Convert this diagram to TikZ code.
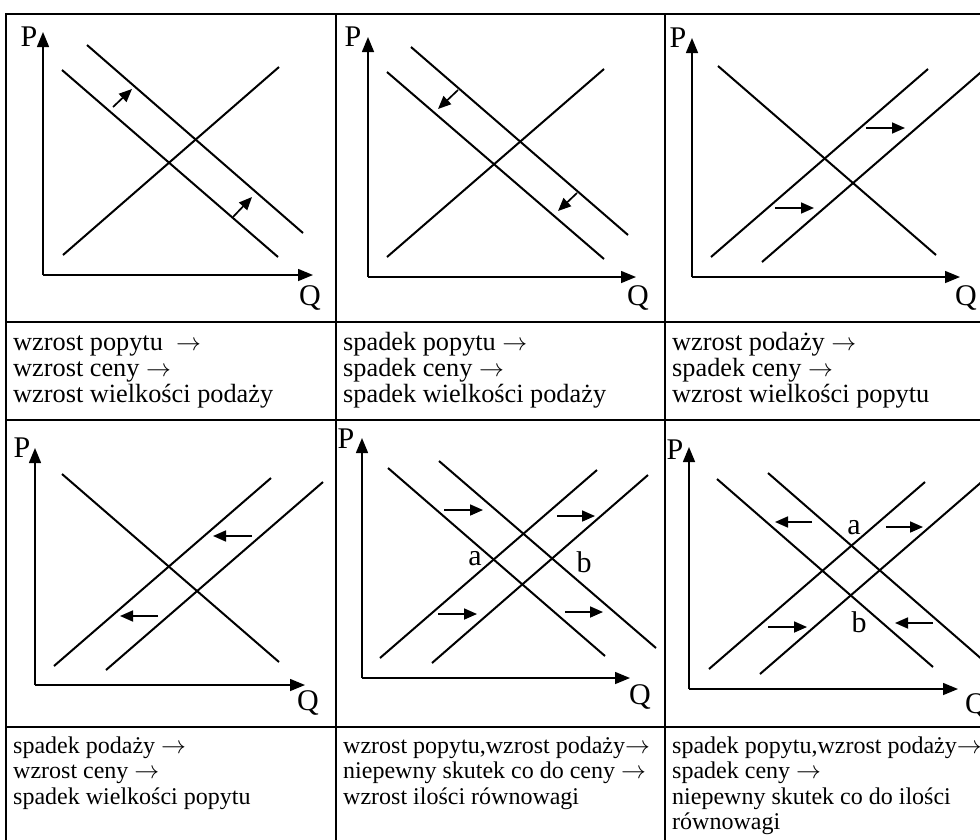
\documentclass[tikz,border=0pt]{standalone}
\usepackage{fontspec}
\setmainfont{Liberation Serif}
\usetikzlibrary{arrows.meta}
\newcommand{\ra}{$\rightarrow$}
\begin{document}
\begin{tikzpicture}[x=1pt,y=-1pt,
  gridline/.style={line width=1.8pt},
  curve/.style={line width=2pt},
  axisarr/.style={line width=1.5pt,-{Triangle[length=15pt,width=12pt]}},
  shiftarr/.style={line width=1.7pt,-{Triangle[length=13pt,width=11pt]}},
  lbl/.style={inner sep=0pt,font=\fontsize{30}{30}\selectfont},
  txta/.style={anchor=base west,inner sep=0pt,font=\fontsize{26.3}{26}\selectfont},
  txtb/.style={anchor=base west,inner sep=0pt,font=\fontsize{24}{24}\selectfont}]
\useasboundingbox (0,0) rectangle (980,839);
\fill[white] (0,0) rectangle (980,839);
% table grid
\draw[gridline] (6,14) -- (990,14);
\draw[gridline] (6,322) -- (990,322);
\draw[gridline] (6,420) -- (990,420);
\draw[gridline] (6,727) -- (990,727);
\draw[gridline] (6,13) -- (6,850);
\draw[gridline] (336,13) -- (336,850);
\draw[gridline] (665,13) -- (665,850);

% ---------- panel 1 ----------
\draw[axisarr] (43,275) -- (43,32);
\draw[axisarr] (43,275) -- (313,275);
\node[lbl] (p1P) at (29,37) {P};
\node[lbl] (p1Q) at (310,298) {Q};
\draw[curve] (62,70) -- (278,257);
\draw[curve] (87,45) -- (303,233);
\draw[curve] (63,255) -- (279,67);
\draw[shiftarr] (113,107) -- (132,89);
\draw[shiftarr] (233,217) -- (252,197);

% ---------- panel 2 ----------
\draw[axisarr] (368,277) -- (368,37);
\draw[axisarr] (368,277) -- (636,277);
\node[lbl] (p2P) at (353,37) {P};
\node[lbl] (p2Q) at (638,298) {Q};
\draw[curve] (387,72) -- (604,259);
\draw[curve] (411,47) -- (628,235);
\draw[curve] (387,257) -- (604,69);
\draw[shiftarr] (458,90) -- (438,109);
\draw[shiftarr] (577,193) -- (558,211);

% ---------- panel 3 ----------
\draw[axisarr] (692,277) -- (692,38);
\draw[axisarr] (692,277) -- (960,277);
\node[lbl] (p3P) at (678,38) {P};
\node[lbl] (p3Q) at (966,298) {Q};
\draw[curve] (718,66) -- (936,255);
\draw[curve] (711,257) -- (928,69);
\draw[curve] (762,262) -- (995,60);
\draw[shiftarr] (866,128) -- (905,128);
\draw[shiftarr] (775,208) -- (814,208);

% ---------- panel 4 ----------
\draw[axisarr] (35,685) -- (35,448);
\draw[axisarr] (35,685) -- (305,685);
\node[lbl] (p4P) at (22,448) {P};
\node[lbl] (p4Q) at (308,703) {Q};
\draw[curve] (62,474) -- (279,662);
\draw[curve] (54,666) -- (271,478);
\draw[curve] (106,670) -- (323,482);
\draw[shiftarr] (252,536) -- (213,536);
\draw[shiftarr] (158,616) -- (120,616);

% ---------- panel 5 ----------
\draw[axisarr] (362,678) -- (362,438);
\draw[axisarr] (362,678) -- (630,678);
\node[lbl] (p5P) at (346,439) {P};
\node[lbl] (p5Q) at (640,697) {Q};
\draw[curve] (388,468) -- (605,656);
\draw[curve] (439,461) -- (656,648);
\draw[curve] (380,658) -- (597,470);
\draw[curve] (432,663) -- (648,475);
\draw[shiftarr] (444,510) -- (483,510);
\draw[shiftarr] (557,516) -- (595,516);
\draw[shiftarr] (438,614) -- (477,614);
\draw[shiftarr] (565,612) -- (603,612);
\node[lbl] (p5a) at (475,559) {a};
\node[lbl] (p5b) at (584,562) {b};

% ---------- panel 6 ----------
\draw[axisarr] (689,689) -- (689,447);
\draw[axisarr] (689,689) -- (958,689);
\node[lbl] (p6P) at (675,450) {P};
\node[lbl] (p6Q) at (976,706) {Q};
\draw[curve] (717,479) -- (933,667);
\draw[curve] (768,473) -- (1000,675);
\draw[curve] (709,669) -- (925,482);
\draw[curve] (760,674) -- (1000,466);
\draw[shiftarr] (812,522) -- (775,522);
\draw[shiftarr] (886,527) -- (923,527);
\draw[shiftarr] (768,627) -- (807,627);
\draw[shiftarr] (933,623) -- (895,623);
\node[lbl] (p6a) at (854,528) {a};
\node[lbl] (p6b) at (859,622) {b};

% ---------- texts row 1 ----------
\node[txta] (t1a) at (13,350) {wzrost popytu \ \ra};
\node[txta] (t1b) at (13,376) {wzrost ceny \ra};
\node[txta] (t1c) at (13,402) {wzrost wielkości podaży};
\node[txta] (t2a) at (343,350) {spadek popytu \ra};
\node[txta] (t2b) at (343,376) {spadek ceny \ra};
\node[txta] (t2c) at (343,402) {spadek wielkości podaży};
\node[txta] (t3a) at (672,350) {wzrost podaży \ra};
\node[txta] (t3b) at (672,376) {spadek ceny \ra};
\node[txta] (t3c) at (672,402) {wzrost wielkości popytu};
% ---------- texts row 2 ----------
\node[txtb] (t4a) at (13,753) {spadek podaży \ra};
\node[txtb] (t4b) at (13,778.5) {wzrost ceny \ra};
\node[txtb] (t4c) at (13,804) {spadek wielkości popytu};
\node[txtb] (t5a) at (343,753) {wzrost popytu,wzrost podaży\ra};
\node[txtb] (t5b) at (343,778.5) {niepewny skutek co do ceny \ra};
\node[txtb] (t5c) at (343,804) {wzrost ilości równowagi};
\node[txtb] (t6a) at (672,753) {spadek popytu,wzrost podaży\ra};
\node[txtb] (t6b) at (672,778.5) {spadek ceny \ra};
\node[txtb] (t6c) at (672,804) {niepewny skutek co do ilości};
\node[txtb] (t6d) at (672,829.5) {równowagi};
\end{tikzpicture}
\end{document}
